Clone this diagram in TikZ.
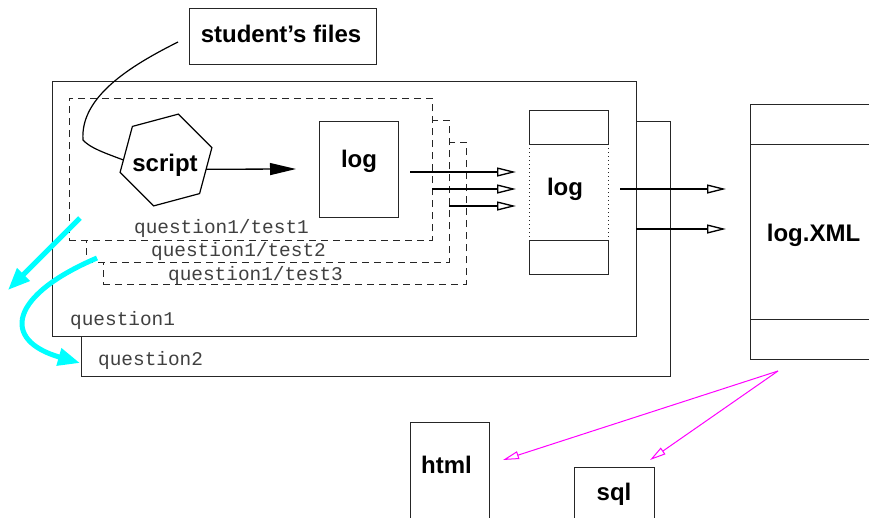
\documentclass[tikz,border=0pt]{standalone}
\usepackage{fontspec}
\setmainfont{Liberation Sans}
\newfontfamily\ttlabel{Liberation Mono}
\usetikzlibrary{shapes.geometric,arrows.meta}
\definecolor{hintcyan}{RGB}{0,255,255}
\definecolor{feedmagenta}{RGB}{255,0,255}

\begin{document}
\begin{tikzpicture}[x=1pt,y=-1pt,
  frame/.style={draw=black!85, line width=0.9pt, fill=white, inner sep=0pt, outer sep=0pt, anchor=north west},
  testbox/.style={frame, dash pattern=on 7pt off 5pt},
  title/.style={font=\fontsize{24}{28}\selectfont\bfseries, inner sep=0pt, anchor=base},
  dirlabel/.style={font=\ttlabel\fontsize{19.4}{22}\selectfont, text=black!75, inner sep=0pt},
  flow/.style={line width=1.3pt, -{Triangle[open, length=19pt, width=9pt]}},
  feed/.style={draw=feedmagenta, line width=1pt, -{Triangle[open, length=16pt, width=8pt]}},
  hint/.style={draw=hintcyan, line width=5pt, -{Triangle[length=22pt, width=17pt]}},
]
\clip (0,0) rectangle (869,517);

% nested run directories
\node[frame, minimum width=589pt, minimum height=255pt] (question2) at (81,121) {};
\node[frame, minimum width=584pt, minimum height=255pt] (question1) at (52,81) {};
\node[testbox, minimum width=363pt, minimum height=142pt] (test3) at (103,142) {};
\node[testbox, minimum width=363pt, minimum height=142pt] (test2) at (86,120) {};
\node[testbox, minimum width=363pt, minimum height=142pt] (test1) at (69,98) {};

\node[dirlabel, anchor=base west] (q2lbl) at ([xshift=17pt,yshift=11pt]question2.south west) {question2};
\node[dirlabel, anchor=base west] (q1lbl) at ([xshift=18pt,yshift=11pt]question1.south west) {question1};
\node[dirlabel, anchor=base] (t1lbl) at ([xshift=-29pt,yshift=7pt]test1.south) {question1/test1};
\node[dirlabel, anchor=base] (t2lbl) at ([xshift=-29pt,yshift=6pt]test2.south) {question1/test2};
\node[dirlabel, anchor=base] (t3lbl) at ([xshift=-29pt,yshift=4pt]test3.south) {question1/test3};

% inputs and the script
\node[frame, minimum width=187pt, minimum height=56pt] (files) at (189,8) {};
\node[title] (filestxt) at (281,42) {student's files};
\node[regular polygon, regular polygon sides=6, shape border rotate=15, minimum size=95pt,
      draw=black, line width=1.2pt, inner sep=0pt, outer sep=0pt] (script) at (166,160) {};
\node[title] (scripttxt) at (165,171) {script};

% per-test log
\node[frame, minimum width=79pt, minimum height=96pt] (log1) at (319,121) {};
\node[title] (log1txt) at (359,167) {log};

% collected log
\node[frame, minimum width=79pt, minimum height=34pt] (log2top) at (529,110) {};
\node[frame, minimum width=79pt, minimum height=34pt] (log2bot) at (529,240) {};
\node[inner sep=0pt, outer sep=0pt, anchor=north west, minimum width=79pt, minimum height=96pt] (log2) at (529,144) {};
\draw[black!85, line width=0.9pt, dash pattern=on 1pt off 3pt] (log2.north west) -- (log2.south west);
\draw[black!85, line width=0.9pt, dash pattern=on 1pt off 3pt] (log2.north east) -- (log2.south east);
\node[title] (log2txt) at (565,195) {log};

% XML result
\node[frame, minimum width=127pt, minimum height=255pt] (xml) at (750,104) {};
\draw[black!85, line width=0.9pt] ([yshift=-40pt]xml.north west) -- ([yshift=-40pt]xml.north east);
\draw[black!85, line width=0.9pt] ([yshift=40pt]xml.south west) -- ([yshift=40pt]xml.south east);
\node[title] (xmltxt) at (813.5,241) {log.XML};

% outputs
\node[frame, minimum width=79pt, minimum height=98pt] (html) at (410,422) {};
\node[title] (htmltxt) at (446.5,473) {html};
\node[frame, minimum width=80pt, minimum height=96pt] (sql) at (574,467) {};
\node[title] (sqltxt) at (614,500) {sql};

% connectors
\draw[line width=1.2pt] ([xshift=-11pt,yshift=-6pt]files.west)
  .. controls (130,66) and (80,97) .. (83,140)
  .. controls (90,148) and (105,153) .. (script.west);
\draw[line width=1.3pt, -{Triangle[length=26pt, width=12pt]}] (script.-13) -- ([xshift=-23pt]log1.west);

\draw[flow, shorten >=13pt] ([xshift=12pt,yshift=-3pt]log1.east) coordinate (a1) -- (a1 -| log2.west);
\draw[flow, shorten >=13pt] ([yshift=-20pt]test1.east) coordinate (a2) -- (a2 -| log2.west);
\draw[flow, shorten >=13pt] ([yshift=-15pt]test2.east) coordinate (a3) -- (a3 -| log2.west);

\draw[flow, shorten >=24pt] ([xshift=12pt,yshift=3pt]log2.east) coordinate (o1) -- (o1 -| xml.west);
\draw[flow, shorten >=24pt] ([yshift=-20.5pt]question1.east) coordinate (o2) -- (o2 -| xml.west);

\coordinate (xo) at ([xshift=-35.5pt,yshift=-12pt]xml.south);
\coordinate (htmlin) at ([xshift=14pt,yshift=-38pt]html.north east);
\coordinate (sqlin) at ([xshift=-4pt,yshift=7pt]sql.north east);
\draw[feed] (xo) -- (htmlin);
\draw[feed] (xo) -- (sqlin);

% iteration hints
\coordinate (c1s) at (80,218);
\coordinate (c1e) at (8,290);
\coordinate (c2s) at (97,258);
\coordinate (c2e) at (80,363);
\draw[hint] (c1s) -- (c1e);
\draw[hint] (c2s) .. controls (10,295) and (0,340) .. (c2e);
\end{tikzpicture}
\end{document}
